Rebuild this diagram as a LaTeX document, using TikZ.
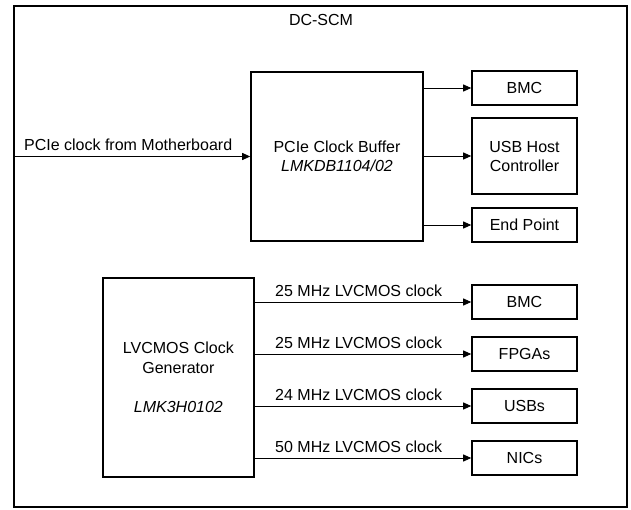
\documentclass[tikz,border=0pt]{standalone}
\usepackage{fontspec}
\setmainfont{Liberation Sans}
\usetikzlibrary{arrows.meta, positioning}

\tikzset{
  blk/.style={draw, line width=1.6pt, align=center, inner sep=0pt},
  sink/.style={blk, minimum width=105pt, minimum height=34pt},
  clk/.style={-{Triangle[length=8pt,width=7pt]}, line width=0.9pt},
  lbl/.style={above=2pt},
}

\begin{document}
\begin{tikzpicture}[x=1pt, y=-1pt, font=\fontsize{16}{20}\selectfont]
    \useasboundingbox (0,0) rectangle (631,510);

    % DC-SCM board frame
    \node[blk, minimum width=613pt, minimum height=501pt] (scm) at (320.5,256.5) {};
    \node (scmlbl) at (321,20) {DC-SCM};

    % PCIe clock buffer and its outputs
    \node[blk, minimum width=172pt, minimum height=169pt] (buf) at (337,156.5)
        {PCIe Clock Buffer\\[-1pt]\textit{LMKDB1104/02}};
    \node[sink] (bmcA) at (524.5,88) {BMC};
    \node[sink, minimum height=76pt] (usbhost) at (524.5,156) {USB Host\\[-1pt]Controller};
    \node[sink] (endpt) at (524.5,225) {End Point};

    \draw[clk] (scm.west |- buf.west) -- node[lbl, pos=0.485] {PCIe clock from Motherboard} (buf.west);
    \draw[clk] (buf.east |- bmcA.west) -- (bmcA.west);
    \draw[clk] (buf.east |- usbhost.west) -- (usbhost.west);
    \draw[clk] (buf.east |- endpt.west) -- (endpt.west);

    % LVCMOS clock generator and its outputs
    \node[blk, minimum width=151pt, minimum height=199pt] (gen) at (178.4,377.5)
        {LVCMOS Clock\\Generator\\[19pt]\textit{LMK3H0102}};
    \node[sink] (bmcB) at (524.5,302) {BMC};
    \node[sink] (fpga) at (524.5,354) {FPGAs};
    \node[sink] (usbs) at (524.5,406) {USBs};
    \node[sink] (nic) at (524.5,458) {NICs};

    \draw[clk] (gen.east |- bmcB.west) -- node[lbl, pos=0.48] {25 MHz LVCMOS clock} (bmcB.west);
    \draw[clk] (gen.east |- fpga.west) -- node[lbl, pos=0.48] {25 MHz LVCMOS clock} (fpga.west);
    \draw[clk] (gen.east |- usbs.west) -- node[lbl, pos=0.48] {24 MHz LVCMOS clock} (usbs.west);
    \draw[clk] (gen.east |- nic.west) -- node[lbl, pos=0.48] {50 MHz LVCMOS clock} (nic.west);
\end{tikzpicture}
\end{document}
